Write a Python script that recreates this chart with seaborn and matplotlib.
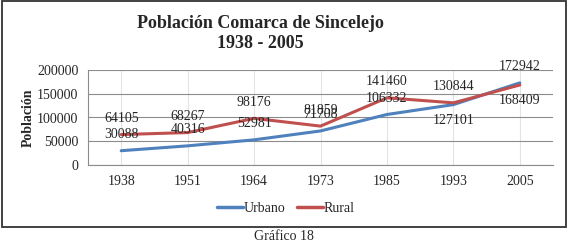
import pandas as pd
import seaborn as sns
import matplotlib.pyplot as plt
from matplotlib.patches import Rectangle

# datos del grafico
anios = ['1938', '1951', '1964', '1973', '1985', '1993', '2005']
urbano = [30088, 40316, 52981, 71708, 106332, 127101, 172942]
rural = [64105, 68267, 98176, 81859, 141460, 130844, 168409]
# posicion de la etiqueta: 1 arriba, -1 abajo
pos_urb = [1, 1, 1, 1, 1, -1, 1]
pos_rur = [1, 1, 1, 1, 1, 1, -1]

df = pd.DataFrame({'Año': anios * 2,
                   'Población': urbano + rural,
                   'Zona': ['Urbano'] * len(anios) + ['Rural'] * len(anios)})

sns.set_style('white')
plt.rcParams['font.family'] = ['Liberation Serif', 'DejaVu Serif']

fig = plt.figure(figsize=(5.68, 2.43), dpi=100)
ax = fig.add_axes([88/568, 78/243, 465/568, 95/243])

sns.lineplot(data=df, x='Año', y='Población', hue='Zona', sort=False,
             palette={'Urbano': '#4F81BD', 'Rural': '#C0504D'},
             linewidth=2.2, ax=ax, legend=True)

ax.set_xlim(-0.5, len(anios) - 0.5)
ax.set_ylim(0, 200000)
ax.set_yticks([0, 50000, 100000, 150000, 200000])
ax.set_yticklabels(['0', '50000', '100000', '150000', '200000'])
ax.set_xlabel('')
ax.set_ylabel('')
ax.tick_params(axis='both', length=0, pad=7, labelsize=10)

ax.grid(axis='y', color='#8C8C8C', linewidth=0.8)
for i in range(len(anios)):
    ax.axvline(i, color='#E3E3E3', linewidth=0.8, zorder=0)
for s in ['top', 'right']:
    ax.spines[s].set_visible(False)
for s in ['left', 'bottom']:
    ax.spines[s].set_color('#8C8C8C')
    ax.spines[s].set_linewidth(0.8)

# etiquetas de datos
for serie, posiciones in [(urbano, pos_urb), (rural, pos_rur)]:
    for i, (v, p) in enumerate(zip(serie, posiciones)):
        ax.annotate(str(v), (i, v), xytext=(0, 11.5 * p), textcoords='offset points',
                    ha='center', va='center', fontsize=10)

leg = ax.legend(loc='center', bbox_to_anchor=(286/568, 35/243),
                bbox_transform=fig.transFigure, ncol=2, frameon=False,
                fontsize=10, handlelength=1.9, columnspacing=0.8, handletextpad=0.05)
for h in leg.get_lines():
    h.set_linewidth(2.5)

fig.text(260/568, 1 - 23/243, 'Población Comarca de Sincelejo', ha='center', va='center',
         fontsize=13, fontweight='bold')
fig.text(260/568, 1 - 43/243, '1938 - 2005', ha='center', va='center',
         fontsize=13, fontweight='bold')
fig.text(28/568, 1 - 118/243, 'Población', rotation=90, ha='center', va='center',
         fontsize=10, fontweight='bold')
fig.text(284/568, 1 - 236/243, 'Gráfico 18', ha='center', va='center', fontsize=10)

fig.patches.append(Rectangle((1.5/568, 16/243), 564/568, 225.5/243, transform=fig.transFigure,
                             fill=False, edgecolor='#333333', linewidth=1.3))

fig.savefig('out.png', dpi=100)
